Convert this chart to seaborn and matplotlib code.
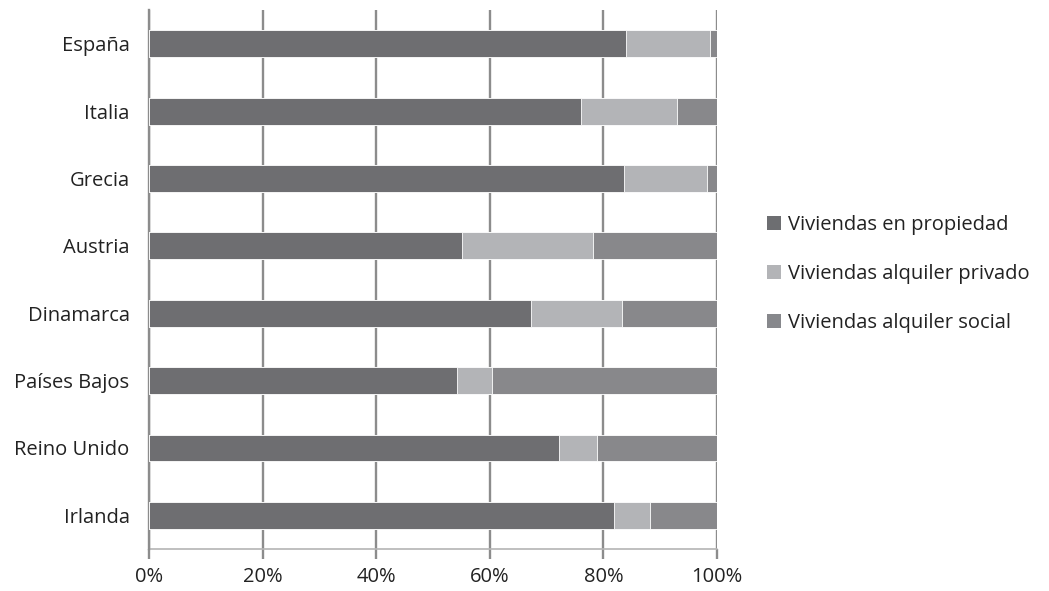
import matplotlib
matplotlib.use("Agg")
import matplotlib.pyplot as plt
import matplotlib.ticker as mticker
import seaborn as sns
import numpy as np
import pandas as pd
from matplotlib.patches import Patch

countries = ["España", "Italia", "Grecia", "Austria", "Dinamarca",
             "Países Bajos", "Reino Unido", "Irlanda"]
propiedad = [84.0, 76.1, 83.6, 55.1, 67.2, 54.2, 72.2, 81.9]
alquiler_privado = [14.8, 16.9, 14.6, 23.1, 16.0, 6.2, 6.7, 6.3]
alquiler_social = [1.2, 7.0, 1.8, 21.8, 16.8, 39.6, 21.1, 11.8]
series_names = ["Viviendas en propiedad", "Viviendas alquiler privado",
                "Viviendas alquiler social"]
colors = ["#6d6e71", "#b3b4b7", "#87888c"]

sns.set_style("white")
plt.rcParams['font.family'] = ['Open Sans', 'DejaVu Sans']

df = pd.DataFrame({"pais": countries, "prop": propiedad,
                   "priv": alquiler_privado, "soc": alquiler_social})
df["c1"] = df["prop"]
df["c2"] = df["prop"] + df["priv"]
df["c3"] = df["c2"] + df["soc"]

fig = plt.figure(figsize=(10.49, 5.91), dpi=100)
ax = fig.add_axes([0.142, 0.071, 0.5415, 0.912])

# draw cumulative totals back to front so they look stacked
for col, c in zip(["c3", "c2", "c1"], colors[::-1]):
    sns.barplot(data=df, x=col, y="pais", color=c, orient="h", width=0.4,
                edgecolor="white", linewidth=0.6, ax=ax, zorder=3)

ax.set_xlim(0, 100)
ax.set_ylim(7.5, -0.5)
ax.xaxis.set_major_locator(mticker.MultipleLocator(20))
ax.xaxis.set_major_formatter(mticker.FuncFormatter(lambda v, p: f"{v:.0f}%"))
ax.grid(axis="x", color="#8c8c8c", linewidth=1.7, zorder=0)
ax.set_axisbelow(True)
ax.set_xlabel("")
ax.set_ylabel("")

for s in ["top", "right", "bottom"]:
    ax.spines[s].set_visible(False)
ax.spines["left"].set_color("#8c8c8c")
ax.spines["left"].set_linewidth(1.7)

ax.set_yticks(np.arange(len(countries)))
ax.set_yticklabels(countries)
ax.yaxis.set_minor_locator(mticker.FixedLocator(np.arange(-0.5, len(countries), 1)))
ax.tick_params(axis="y", which="major", length=0, pad=14, labelsize=14.5, labelcolor="#222222")
ax.tick_params(axis="y", which="minor", length=7, width=1.7, color="#8c8c8c", direction="out")
ax.tick_params(axis="x", which="major", length=7, width=1.7, color="#8c8c8c",
               direction="out", bottom=True, pad=6, labelsize=14.5, labelcolor="#222222")
# thin baseline along the bottom
ax.axhline(7.5, color="#b4b4b4", linewidth=1.2, clip_on=False, zorder=1)

handles = [Patch(facecolor=c, edgecolor="none", label=n) for c, n in zip(colors, series_names)]
fig.legend(handles=handles, loc="center left", bbox_to_anchor=(0.714, 0.536),
           frameon=False, fontsize=14.5, handlelength=0.7, handleheight=0.7,
           handletextpad=0.35, labelspacing=1.45, labelcolor="#222222")

fig.savefig("out.png", dpi=100)
